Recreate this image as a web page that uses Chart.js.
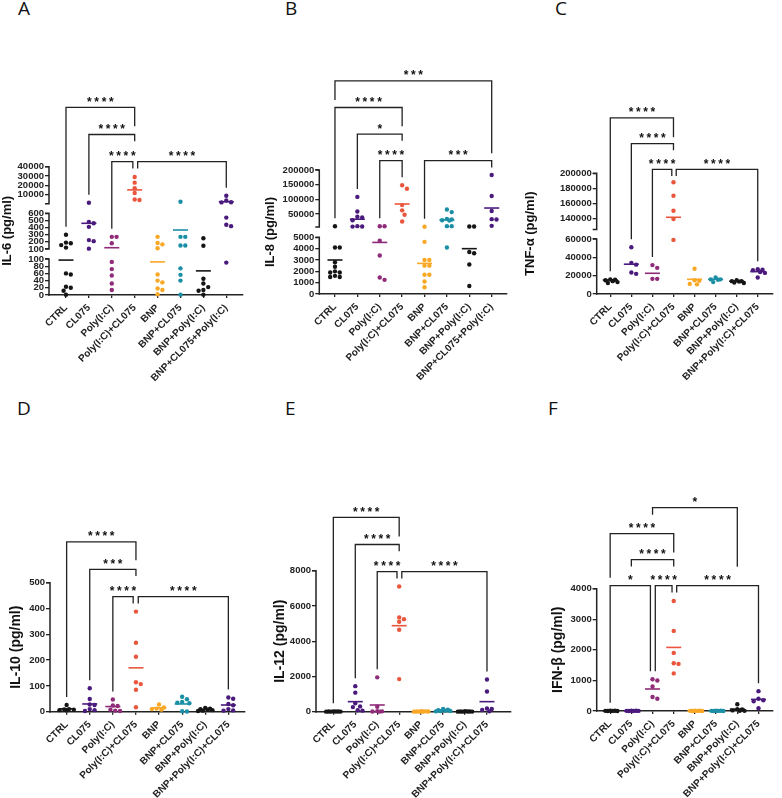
<!DOCTYPE html>
<html>
<head>
<meta charset="utf-8">
<script src="https://cdn.jsdelivr.net/npm/chart.js@4.4.1/dist/chart.umd.min.js"></script>
<style>
  html, body { margin: 0; padding: 0; background: #fff; }
  #fig { position: relative; width: 782px; height: 798px; overflow: hidden; }
  #fig canvas { position: absolute; }
  .letter { position: absolute; font: 19px 'Open Sans', Arial, sans-serif; line-height: 1; color: #111; }
</style>
</head>
<body>
<div id="fig">
  <div class="letter" style="left:18px;top:-1px">A</div>
  <div class="letter" style="left:285px;top:-1px">B</div>
  <div class="letter" style="left:555px;top:-1px">C</div>
  <div class="letter" style="left:17px;top:399px">D</div>
  <div class="letter" style="left:285px;top:399px">E</div>
  <div class="letter" style="left:548px;top:399px">F</div>
  <canvas id="cA" width="260" height="400" style="left:0;top:0"></canvas>
  <canvas id="cB" width="260" height="400" style="left:260px;top:0"></canvas>
  <canvas id="cC" width="262" height="400" style="left:520px;top:0"></canvas>
  <canvas id="cD" width="260" height="398" style="left:0;top:400px"></canvas>
  <canvas id="cE" width="260" height="398" style="left:260px;top:400px"></canvas>
  <canvas id="cF" width="262" height="398" style="left:520px;top:400px"></canvas>
</div>
<script>
// groups (A and B name the triple treatment the other way round)
const groupsAB = ["CTRL", "CL075", "Poly(I:C)", "Poly(I:C)+CL075", "BNP", "BNP+CL075", "BNP+Poly(I:C)", "BNP+CL075+Poly(I:C)"];
const groupsCF = ["CTRL", "CL075", "Poly(I:C)", "Poly(I:C)+CL075", "BNP", "BNP+CL075", "BNP+Poly(I:C)", "BNP+Poly(I:C)+CL075"];
const colors = ["#151515", "#4b1a7d", "#8f2b78", "#ea563d", "#f9a826", "#1b8fa6", "#151515", "#4b1a7d"];

// pg/ml, one list per group
const il6 = [
  [300, 190, 180, 155, 120, 60, 57, 23, 20, 12, 1],
  [1600, 480, 460, 410, 225, 210, 105],
  [270, 270, 180, 92, 72, 54, 32, 14],
  [29000, 23000, 17000, 12000, 5000, 4500],
  [270, 185, 165, 110, 57, 40, 35, 18, 14, 2],
  [2700, 270, 270, 150, 150, 74, 56, 40, 1],
  [250, 145, 45, 32, 22, 14, 12, 1],
  [9000, 4000, 2100, 2000, 540, 440, 420, 90]
];
const il6Mean = [97, 460, 118, 15300, 92, 366, 67, 2700];
const il6Ticks = [[0, 20, 40, 60, 80, 100], [100, 200, 300, 400, 500, 600], [10000, 20000, 30000, 40000]];

const il8 = [
  [7500, 4100, 4100, 2800, 2400, 2000, 1900, 1900, 1600, 1500, 1500],
  [108000, 58000, 40000, 38000, 28000, 8000, 7000, 6500],
  [7500, 7500, 4700, 3400, 1450, 1250],
  [148000, 136000, 80000, 62000, 47000, 24000],
  [6000, 4600, 3000, 3000, 2500, 2500, 1700, 1700, 1100, 600],
  [65000, 56000, 33000, 31000, 28000, 27000, 8000, 8000, 4100],
  [7000, 7000, 3700, 3600, 2600, 700],
  [183000, 111000, 60000, 32000, 31000, 9000]
];
const il8Mean = [3000, 31700, 4550, 83800, 2700, 29300, 4000, 70000];
const il8Ticks = [[0, 1000, 2000, 3000, 4000, 5000], [50000, 100000, 150000, 200000]];

const tnf = [
  [16000, 15500, 15000, 14000, 13000, 12000],
  [51000, 34000, 32000, 23500, 22000],
  [31500, 28500, 16500, 16500],
  [188000, 170000, 150000, 139000, 59000],
  [27500, 15000, 14500, 11000, 10500],
  [18000, 16000, 16000, 15500, 13000],
  [15000, 14000, 14000, 13500, 12500, 12000],
  [27000, 26500, 26000, 24000, 23000, 18000]
];
const tnfMean = [15300, 32500, 22600, 141300, 16000, 16000, 14000, 24400];
const tnfTicks = [[0, 20000, 40000, 60000], [140000, 160000, 180000, 200000]];

const il10 = [
  [26, 10, 9, 8, 6, 5],
  [91, 49, 28, 26, 10, 6, 3],
  [47, 24, 22, 8, 4, 3],
  [388, 267, 213, 114, 107, 85, 17],
  [28, 16, 12, 10, 8],
  [58, 48, 38, 35, 33, 2, 1],
  [15, 12, 10, 8, 6, 4, 3],
  [55, 50, 30, 25, 10, 5, 4]
];
const il10Mean = [11, 30, 20, 170, 15, 30, 8, 26];
const il10Ticks = [[0, 100, 200, 300, 400, 500]];

const il12 = [
  [20, 15, 10, 8, 5, 3, 2],
  [1450, 1080, 480, 300, 260, 80, 60],
  [1950, 280, 30, 20, 10, 5],
  [7100, 5350, 5250, 5100, 4650, 1850],
  [30, 20, 15, 10, 8, 5, 3, 2],
  [150, 120, 80, 60, 40, 30, 20],
  [25, 15, 10, 8, 5, 3, 2],
  [1830, 1150, 180, 150, 100, 20]
];
const il12Mean = [10, 570, 380, 4880, 12, 70, 10, 570];
const il12Ticks = [[0, 2000, 4000, 6000, 8000]];

const ifnb = [
  [10, 8, 5, 3, 2, 1],
  [10, 8, 5, 4, 3, 2],
  [1040, 1000, 800, 460, 400],
  [3600, 2620, 1900, 1560, 1540, 1230],
  [10, 8, 5, 3, 2, 1],
  [10, 8, 5, 3, 2, 1],
  [220, 60, 50, 20, 10, 5],
  [650, 400, 350, 320, 90]
];
const ifnbMean = [5, 5, 720, 2080, 5, 5, 60, 380];
const ifnbTicks = [[0, 1000, 2000, 3000, 4000]];

const FONT = "Arial, 'Liberation Sans', sans-serif";
const INK = "#222";

// linear scale cut into pieces (broken axis)
class BrokenScale extends Chart.LinearScale {
  static id = "broken";
  buildTicks() {
    const out = [];
    this.options.tickSets.forEach((set, s) => set.forEach(v => out.push({ value: v, seg: s })));
    return out;
  }
  segOf(v) {
    const segs = this.options.segments;
    for (let i = 0; i < segs.length; i++) if (v >= segs[i].min && v <= segs[i].max) return i;
    if (v < segs[0].min) return 0;
    for (let i = segs.length - 1; i >= 0; i--) if (v > segs[i].max) return i;
    return 0;
  }
  pixelIn(v, s) {
    const g = this.options.segments[s];
    return this.getPixelForDecimal(g.from + (v - g.min) / (g.max - g.min) * (g.to - g.from));
  }
  getPixelForValue(v) {
    return this.pixelIn(v, this.segOf(v));
  }
  getPixelForTick(i) {
    const t = this.ticks[i];
    return this.pixelIn(t.value, t.seg);
  }
  getValueForPixel(p) {
    const d = this.getDecimalForPixel(p);
    const segs = this.options.segments;
    let g = segs[segs.length - 1];
    for (const s of segs) if (d <= s.to) { g = s; break; }
    return g.min + (d - g.from) / (g.to - g.from) * (g.max - g.min);
  }
}
Chart.register(BrokenScale);

const axisPlugin = {
  id: "brokenAxis",
  beforeDatasetsDraw(chart) {
    const ys = chart.scales.y, ctx = chart.ctx, x = chart.chartArea.left;
    ctx.save();
    ctx.strokeStyle = INK;
    ctx.lineWidth = 1.5;
    ys.options.segments.forEach((g, s) => {
      const p0 = ys.pixelIn(g.min, s), p1 = ys.pixelIn(g.max, s);
      ctx.beginPath();
      ctx.moveTo(x - 4, p1);
      ctx.lineTo(x, p1);
      ctx.lineTo(x, s === 0 ? p0 + 0.75 : p0);
      if (s > 0) ctx.lineTo(x - 4, p0);
      ctx.stroke();
    });
    ctx.restore();
  }
};

const bracketPlugin = {
  id: "brackets",
  afterDraw(chart, args, opts) {
    const xs = chart.scales.x, ys = chart.scales.y, ctx = chart.ctx;
    const vals = opts.values;
    const top = chart.chartArea.top;
    ctx.save();
    ctx.strokeStyle = INK;
    ctx.fillStyle = "#111";
    ctx.lineWidth = 1.3;
    ctx.font = "bold 12px " + FONT;
    ctx.textAlign = "center";
    ctx.textBaseline = "alphabetic";
    opts.items.forEach(([a, b, label, level, legA, legB]) => {
      const y = top - opts.base - level * opts.gap;
      const xa = xs.getPixelForValue(a), xb = xs.getPixelForValue(b);
      const leg = (spec, g) => spec === "d"
        ? ys.getPixelForValue(Math.max(...vals[Math.round(g)])) - 8
        : y + spec;
      ctx.beginPath();
      ctx.moveTo(xa, leg(legA, a));
      ctx.lineTo(xa, y);
      ctx.lineTo(xb, y);
      ctx.lineTo(xb, leg(legB, b));
      ctx.stroke();
      ctx.letterSpacing = "2.6px";
      ctx.fillText(label, (xa + xb) / 2 + 1.3, y - 1.5);
    });
    ctx.restore();
  }
};

// spread the dots of each group sideways so they do not pile up
function swarm(chart, n) {
  const xs = chart.scales.x, ys = chart.scales.y;
  const unit = xs.getPixelForValue(1) - xs.getPixelForValue(0);
  const d = 4.4, step = 2.4, lim = 9;
  chart.data.datasets.slice(0, n).forEach((ds, gi) => {
    const placed = [];
    ds.data = ds.data.map(pt => {
      const py = ys.getPixelForValue(pt.y);
      let best = 0, bestScore = -1;
      for (let k = 0; k <= 2 * Math.floor(lim / step); k++) {
        const off = (k % 2 ? 1 : -1) * Math.ceil(k / 2) * step;
        let minD = Infinity;
        placed.forEach(q => { minD = Math.min(minD, Math.hypot(off - q[0], py - q[1])); });
        if (minD >= d) { best = off; break; }
        if (minD > bestScore) { bestScore = minD; best = off; }
      }
      placed.push([best, py]);
      return { x: gi + best / unit, y: pt.y };
    });
  });
  chart.update("none");
}

function makePanel(p) {
  const datasets = p.values.map((vals, i) => ({
    data: vals.map(v => ({ x: i, y: v })),
    pointRadius: 2.2,
    pointBackgroundColor: colors[i],
    pointBorderWidth: 0,
    clip: false
  }));
  datasets.push({
    data: p.means.map((m, i) => ({ x: i, y: m })),
    pointStyle: "line",
    pointRadius: 7.5,
    pointBorderWidth: 1.6,
    pointBorderColor: colors,
    clip: false
  });

  const chart = new Chart(document.getElementById(p.id), {
    type: "scatter",
    data: { datasets },
    options: {
      responsive: false,
      animation: false,
      devicePixelRatio: 1,
      events: [],
      layout: { padding: { left: p.padLeft, right: p.padRight, top: p.padTop, bottom: 0 } },
      plugins: {
        legend: { display: false },
        tooltip: { enabled: false },
        brackets: { items: p.brackets, base: p.base, gap: p.gap, values: p.values }
      },
      scales: {
        x: {
          type: "linear",
          min: p.xMin,
          max: p.xMax,
          afterBuildTicks: s => { s.ticks = p.groups.map((g, i) => ({ value: i })); },
          afterFit: s => { s.height = p.xHeight; },
          grid: { drawOnChartArea: false, drawTicks: true, tickLength: 3, color: INK, lineWidth: 1.3 },
          border: { display: true, color: INK, width: 1.5 },
          ticks: {
            autoSkip: false,
            minRotation: 45,
            maxRotation: 45,
            padding: 4,
            color: INK,
            font: { family: FONT, size: 10, weight: "bold" },
            callback: v => p.groups[v]
          }
        },
        y: {
          type: "broken",
          min: p.segments[0].min,
          max: p.segments[p.segments.length - 1].max,
          segments: p.segments,
          tickSets: p.ticks,
          afterFit: s => { s.width = p.yWidth; },
          grid: { drawOnChartArea: false, drawTicks: true, tickLength: 4, color: INK, lineWidth: 1.3 },
          border: { display: false },
          ticks: {
            autoSkip: false,
            padding: 1,
            color: INK,
            font: { family: FONT, size: 9.5, weight: "bold" },
            callback: v => String(v)
          },
          title: {
            display: true,
            text: p.title,
            padding: 0,
            color: "#111",
            font: { family: FONT, size: p.titleSize, weight: "bold" }
          }
        }
      }
    },
    plugins: [axisPlugin, bracketPlugin]
  });
  swarm(chart, p.values.length);
}

makePanel({
  id: "cA", groups: groupsAB, values: il6, means: il6Mean, ticks: il6Ticks, title: "IL-6 (pg/ml)", titleSize: 13,
  segments: [
    { min: 0, max: 100, from: 0, to: 0.2806 },
    { min: 100, max: 600, from: 0.3585, to: 0.6368 },
    { min: 600, max: 40000, from: 0.7116, to: 1 }
  ],
  xMin: -0.742, xMax: 7.73, padLeft: 0, yWidth: 49, padRight: 17, padTop: 166.7, xHeight: 105,
  base: 5, gap: 27.2,
  brackets: [[0, 3, "****", 2, "d", 19], [1, 3, "****", 1, "d", 6.7], [2, 2.92, "****", 0, "d", 6.7], [3.13, 7, "****", 0, 6.7, "d"]]
});

makePanel({
  id: "cB", groups: groupsAB, values: il8, means: il8Mean, ticks: il8Ticks, title: "IL-8 (pg/ml)", titleSize: 13,
  segments: [
    { min: 0, max: 5000, from: 0, to: 0.457 },
    { min: 5000, max: 200000, from: 0.540, to: 1 }
  ],
  xMin: -0.70, xMax: 7.67, padLeft: 2.2, yWidth: 57.1, padRight: 13.3, padTop: 170, xHeight: 106,
  base: 9.3, gap: 26.6,
  brackets: [[2, 3, "****", 0, "d", "d"], [4, 7, "***", 0, "d", 6.7], [1, 3, "*", 1, "d", 6.7], [0, 3, "****", 2, "d", 18.7], [0, 7, "***", 3, 19, 72.3]]
});

makePanel({
  id: "cC", groups: groupsCF, values: tnf, means: tnfMean, ticks: tnfTicks, title: "TNF-\u03b1 (pg/ml)", titleSize: 13,
  segments: [
    { min: 0, max: 60000, from: 0, to: 0.4557 },
    { min: 125000, max: 200000, from: 0.5344, to: 1 }
  ],
  xMin: -0.645, xMax: 7.72, padLeft: 2.2, yWidth: 74.5, padRight: 3.7, padTop: 173.3, xHeight: 106,
  base: 4, gap: 25.7,
  brackets: [[2, 2.92, "****", 0, "d", 6.7], [3.13, 7, "****", 0, 6.7, "d"], [1, 3, "****", 1, "d", 6.7], [0, 3, "****", 2, "d", 19.3]]
});

makePanel({
  id: "cD", groups: groupsCF, values: il10, means: il10Mean, ticks: il10Ticks, title: "IL-10 (pg/ml)", titleSize: 14,
  segments: [{ min: 0, max: 500, from: 0, to: 1 }],
  xMin: -0.72, xMax: 7.72, padLeft: 7.5, yWidth: 42.5, padRight: 15, padTop: 182.7, xHeight: 86.3,
  base: -14, gap: 27.4,
  brackets: [[2, 2.88, "****", 0, "d", 6.7], [3.1, 7, "****", 0, 6.7, "d"], [1, 3, "***", 1, "d", 6.7], [0, 3, "****", 2, "d", 18.3]]
});

makePanel({
  id: "cE", groups: groupsCF, values: il12, means: il12Mean, ticks: il12Ticks, title: "IL-12 (pg/ml)", titleSize: 14,
  segments: [{ min: 0, max: 8000, from: 0, to: 1 }],
  xMin: -0.79, xMax: 8.09, padLeft: 12.2, yWidth: 43.8, padRight: 2, padTop: 170.7, xHeight: 86.3,
  base: -1, gap: 27.2,
  brackets: [[2, 2.9, "****", 0, "d", 6.7], [3.12, 7, "****", 0, 6.7, "d"], [1, 3, "****", 1, "d", 6.7], [0, 3, "****", 2, "d", 19.3]]
});

makePanel({
  id: "cF", groups: groupsCF, values: ifnb, means: ifnbMean, ticks: ifnbTicks, title: "IFN-\u03b2 (pg/ml)", titleSize: 14,
  segments: [{ min: 0, max: 4000, from: 0, to: 1 }],
  xMin: -0.635, xMax: 7.68, padLeft: 30, yWidth: 46.7, padRight: 2, padTop: 188.7, xHeight: 87,
  base: 3, gap: 26,
  brackets: [[0, 1.9, "*", 0, "d", "d"], [2.13, 2.92, "****", 0, "d", 6.7], [3.14, 7, "****", 0, 6.7, "d"], [1, 3, "****", 1, 6.7, 6.7], [0, 3, "****", 2, 44, 18.7], [2, 6, "*", 3, 7, 59]]
});
</script>
</body>
</html>
